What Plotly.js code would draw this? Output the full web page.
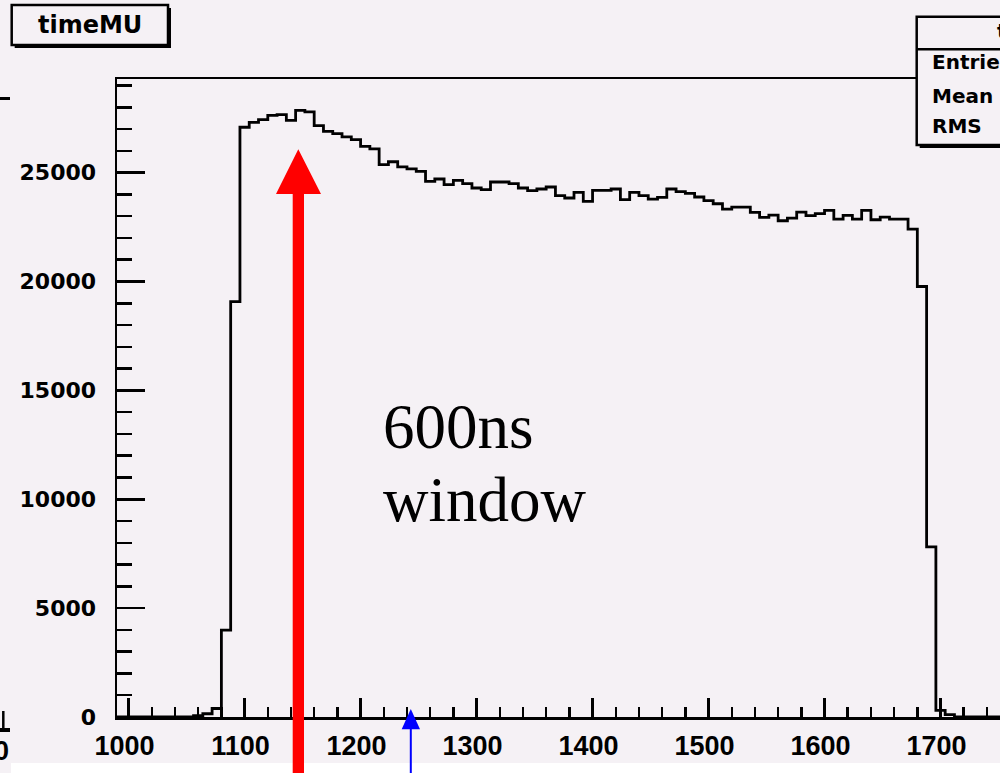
<!DOCTYPE html>
<html>
<head>
<meta charset="utf-8">
<script src="https://cdn.plot.ly/plotly-3.0.1.min.js"></script>
<style>
  html, body { margin: 0; padding: 0; background: #f5f1f5; overflow: hidden; }
  #chart { width: 1100px; height: 773px; }
</style>
</head>
<body>
<div id="chart"></div>
<script>
// timeMU histogram: 8 ns bins, first listed bin starts at 1056
const binStart = 1056;
const binWidth = 8;
const counts = [
  60, 150, 390,
  3990, 19080, 27085, 27310, 27435, 27632, 27664, 27402, 27862, 27788,
  27159, 26897, 26791, 26639, 26515, 26207, 26087, 25366, 25500, 25260,
  25168, 25057, 24598, 24707, 24445, 24644, 24492, 24294, 24216, 24570,
  24570, 24492, 24294, 24170, 24248, 24340, 23940, 23834, 24092, 23680,
  24184, 24184, 24248, 23756, 24092, 23940, 23786, 23862, 24248, 24124,
  24050, 23880, 23710, 23572, 23328, 23420, 23420, 23172, 22943, 23052,
  22791, 22915, 23190, 23021, 23113, 23264, 22869, 23035, 22869, 23264,
  22837, 22961, 22869, 22869, 22409, 19770, 7816,
  300, 110
];

// axis settings and tick labels
const xRange = [990, 1803];
const yRange = [0, 29300];
const xTicks = [1000, 1100, 1200, 1300, 1400, 1500, 1600, 1700];
const yTicks = [0, 5000, 10000, 15000, 20000, 25000];
const xMinor = 20, yMinor = 1000;

// labels
const histName = 'timeMU';
const statLabels = ['Entries', 'Mean', 'RMS'];
const noteLines = ['600ns', 'window'];

// page geometry
const W = 1100, H = 773;
const M = { l: 117, r: 40, t: 79, b: 56 };
const PW = W - M.l - M.r, PH = H - M.t - M.b;
const px = v => (v - M.l) / PW;          // pixel x -> paper
const py = v => (M.t + PH - v) / PH;     // pixel y -> paper

// step outline of the histogram (zero runs along the axis)
const xs = [xRange[0]];
const ys = [0];
counts.forEach((c, i) => { xs.push(binStart + i * binWidth); ys.push(c); });
xs.push(binStart + counts.length * binWidth); ys.push(0);
xs.push(xRange[1]); ys.push(0);

const trace = {
  type: 'scatter', mode: 'lines',
  x: xs, y: ys,
  line: { shape: 'hv', color: '#000', width: 2.8 },
  hoverinfo: 'skip'
};

const BG = '#f5f1f5';
const rect = (x0, y0, x1, y1, fill, lw) => ({
  type: 'rect', xref: 'paper', yref: 'paper', layer: 'above',
  x0: px(x0), x1: px(x1), y0: py(y1), y1: py(y0),
  fillcolor: fill, line: { color: '#000', width: lw }
});
const seg = (x0, y0, x1, y1, color, w) => ({
  type: 'line', xref: 'paper', yref: 'paper', layer: 'above',
  x0: px(x0), x1: px(x1), y0: py(y0), y1: py(y1),
  line: { color: color, width: w }
});
const poly = (pts, color) => ({
  type: 'path', xref: 'paper', yref: 'paper', layer: 'above',
  path: 'M ' + pts.map(p => px(p[0]) + ',' + py(p[1])).join(' L ') + ' Z',
  fillcolor: color, line: { width: 0 }
});

const shapes = [
  // white strip along the bottom edge
  rect(11, 763, 1100, 780, '#ffffff', 0),
  // fragments of the neighbouring pad at the left edge
  seg(0, 98.5, 10, 98.5, '#000', 3),
  seg(3.3, 711, 3.3, 731, '#000', 2.5),
  seg(0, 730, 10, 730, '#000', 4),
  // title box with shadow
  rect(14.7, 8, 171, 48, '#000', 0),
  rect(11.7, 5, 168, 45, BG, 2.5),
  // statistics box with shadow
  rect(919.7, 19.7, 1100, 148, '#000', 0),
  rect(916.7, 16.7, 1097, 145, BG, 2.5),
  seg(916.7, 49.3, 1097, 49.3, '#000', 2.5),
  // red arrow
  poly([[292.7, 790], [292.7, 194], [276, 194], [298.3, 149.3], [321, 194], [304, 194], [304, 790]], '#ff0000'),
  // blue arrow
  seg(410.8, 790, 410.8, 725, '#0000ff', 2),
  poly([[401.7, 729.3], [410.8, 709], [420, 729.3]], '#0000ff')
];

const boldSans = { family: 'DejaVu Sans', weight: 'bold', color: '#000' };
const ann = (x, y, text, font, xanchor) => ({
  xref: 'paper', yref: 'paper', x: px(x), y: py(y), text: text,
  showarrow: false, xanchor: xanchor || 'left', yanchor: 'middle',
  font: font
});

const annotations = [
  ann(90, 25, histName, Object.assign({ size: 24 }, boldSans), 'center'),
  ann(995, 31, histName, Object.assign({ size: 20 }, boldSans)),
  ann(930, 62.5, statLabels[0], Object.assign({ size: 20 }, boldSans)),
  ann(930, 95.5, statLabels[1], Object.assign({ size: 20 }, boldSans)),
  ann(930, 126.5, statLabels[2], Object.assign({ size: 20 }, boldSans)),
  ann(381, 427, noteLines[0], { family: 'Liberation Serif', size: 63, color: '#000' }),
  ann(381, 500, noteLines[1], { family: 'Liberation Serif', size: 63, color: '#000' }),
  ann(10.5, 751, '0', { family: 'Liberation Sans', weight: 'bold', size: 27, color: '#000' }, 'right')
];

const layout = {
  width: W, height: H,
  margin: M,
  paper_bgcolor: BG, plot_bgcolor: BG,
  showlegend: false,
  xaxis: {
    range: xRange, tickmode: 'array', tickvals: xTicks, ticktext: xTicks.map(String),
    showgrid: false, zeroline: false,
    showline: true, linecolor: '#000', linewidth: 2.5, mirror: true,
    ticks: 'inside', ticklen: 19, tickwidth: 2.5, tickcolor: '#000',
    minor: { ticks: 'inside', dtick: xMinor, tick0: 1000, ticklen: 10, tickwidth: 2.5, tickcolor: '#000', showgrid: false },
    tickfont: { family: 'Liberation Sans', weight: 'bold', size: 27, color: '#000' },
    ticklabelstandoff: 3, ticklabelshift: -4
  },
  yaxis: {
    range: yRange, tickmode: 'array', tickvals: yTicks, ticktext: yTicks.map(String),
    showgrid: false, zeroline: false,
    showline: true, linecolor: '#000', linewidth: 2.5, mirror: false,
    ticks: 'inside', ticklen: 28, tickwidth: 2.5, tickcolor: '#000',
    minor: { ticks: 'inside', dtick: yMinor, tick0: 0, ticklen: 15, tickwidth: 2.5, tickcolor: '#000', showgrid: false },
    tickfont: Object.assign({ size: 22 }, boldSans),
    ticklabelstandoff: 14
  },
  shapes: shapes,
  annotations: annotations
};

Plotly.newPlot('chart', [trace], layout, { staticPlot: true, displayModeBar: false });
</script>
</body>
</html>
